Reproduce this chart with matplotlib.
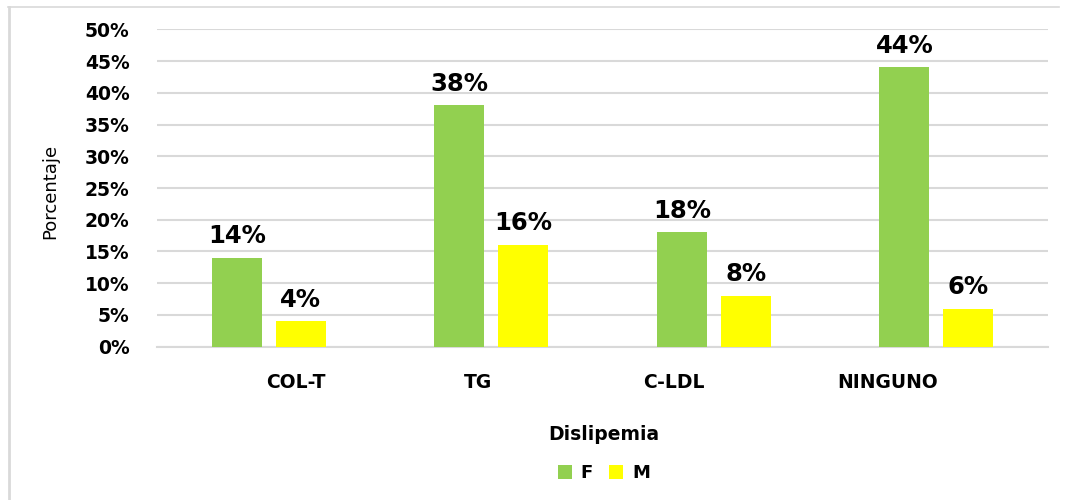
import matplotlib
matplotlib.use("Agg")
import matplotlib.pyplot as plt
from matplotlib.patches import Patch
from matplotlib.lines import Line2D
from matplotlib.ticker import PercentFormatter
import numpy as np

categories = ["COL-T", "TG", "C-LDL", "NINGUNO"]
series_names = ["F", "M"]
values_f = [14, 38, 18, 44]
values_m = [4, 16, 8, 6]
y_ticks = [0, 5, 10, 15, 20, 25, 30, 35, 40, 45, 50]

colors = {"F": "#92D050", "M": "#FFFF00"}
grid_color = "#D9D9D9"

fig = plt.figure(figsize=(10.69, 5.0), dpi=100)
ax = fig.add_axes([0.1473, 0.3066, 0.8326, 0.6348])

x = np.arange(len(categories))
width = 0.225
offset = 0.143

for vals, name, sign in [(values_f, "F", -1), (values_m, "M", 1)]:
    bars = ax.bar(x + sign * offset, [v / 100 for v in vals], width,
                  color=colors[name], zorder=3, label=name)
    for b, v in zip(bars, vals):
        ax.annotate(f"{v}%", (b.get_x() + b.get_width() / 2, b.get_height()),
                    xytext=(0, 7), textcoords="offset points",
                    ha="center", va="bottom", fontsize=17.5, weight="bold",
                    color="#000000")

ax.set_xlim(-0.5, len(categories) - 0.5)
ax.set_ylim(0, 0.5)
ax.set_yticks([t / 100 for t in y_ticks])
ax.yaxis.set_major_formatter(PercentFormatter(1.0, decimals=0))
ax.grid(axis="y", color=grid_color, linewidth=1.5, zorder=0)
ax.set_axisbelow(True)

# category labels sit slightly off the group centres
label_pos = [0.12, 0.94, 1.82, 2.78]
ax.set_xticks(label_pos)
ax.set_xticklabels(categories)

for s in ["top", "right", "left"]:
    ax.spines[s].set_visible(False)
ax.spines["bottom"].set_color(grid_color)
ax.spines["bottom"].set_linewidth(1.5)

ax.tick_params(axis="y", length=0, pad=20, labelsize=13.5)
ax.tick_params(axis="x", length=0, pad=19, labelsize=13.5)
for lbl in ax.get_yticklabels() + ax.get_xticklabels():
    lbl.set_fontweight("bold")
    lbl.set_color("#000000")

fig.text(50 / 1069, 1 - 191 / 500, "Porcentaje", rotation=90,
         ha="center", va="center", fontsize=13, color="#000000")
fig.text(604 / 1069, 1 - 435 / 500, "Dislipemia", ha="center", va="center",
         fontsize=13.5, fontweight="bold", color="#000000")

handles = [Patch(facecolor=colors[n], edgecolor="none", label=n) for n in series_names]
fig.legend(handles=handles, loc="center", bbox_to_anchor=(604 / 1069, 1 - 473 / 500),
           ncol=2, frameon=False, handlelength=0.78, handleheight=0.78,
           handletextpad=0.5, columnspacing=0.9,
           prop={"size": 13, "weight": "bold"})

# outer frame: top and left edges only
fig.add_artist(Line2D([8 / 1069, 1059 / 1069], [1 - 7 / 500, 1 - 7 / 500],
                      transform=fig.transFigure, color="#D9D9D9", linewidth=1.2))
fig.add_artist(Line2D([9 / 1069, 9 / 1069], [0, 1 - 7 / 500],
                      transform=fig.transFigure, color="#D9D9D9", linewidth=2))

fig.savefig("out.png", dpi=100, facecolor="white")
